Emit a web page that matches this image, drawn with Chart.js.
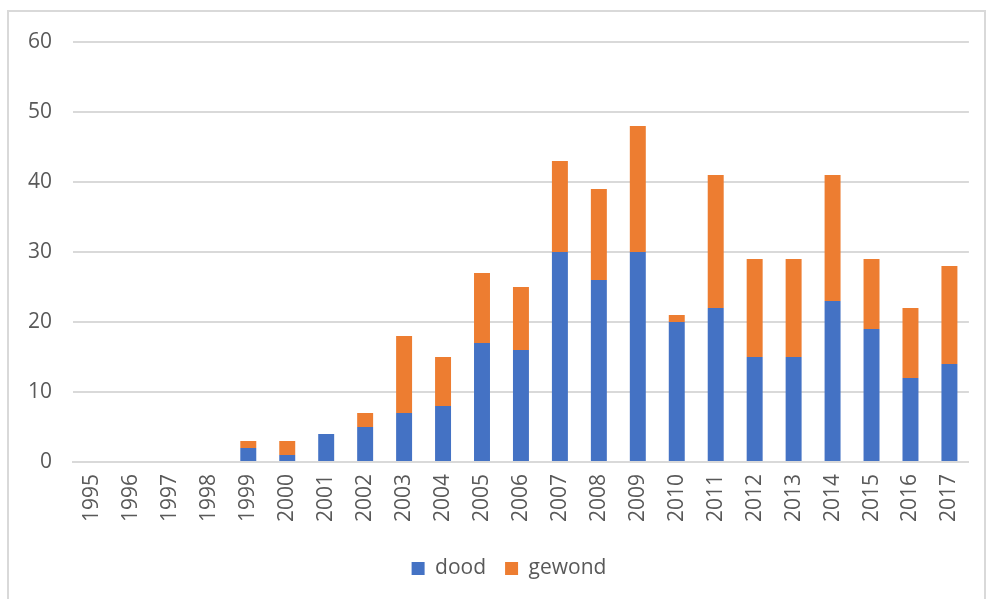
<!DOCTYPE html>
<html>
<head>
<meta charset="utf-8">
<script src="https://cdn.jsdelivr.net/npm/chart.js@4.4.0/dist/chart.umd.min.js"></script>
<style>
  html, body { margin: 0; padding: 0; background: #fff; }
  #wrap { position: relative; width: 987px; height: 599px; }
</style>
</head>
<body>
<div id="wrap"><canvas id="chart" width="987" height="599"></canvas></div>
<script>
// chart data
const years = ['1995', '1996', '1997', '1998', '1999', '2000', '2001', '2002', '2003', '2004', '2005', '2006',
  '2007', '2008', '2009', '2010', '2011', '2012', '2013', '2014', '2015', '2016', '2017'];
const dood = [0, 0, 0, 0, 2, 1, 4, 5, 7, 8, 17, 16, 30, 26, 30, 20, 22, 15, 15, 23, 19, 12, 14];
const gewond = [0, 0, 0, 0, 1, 2, 0, 2, 11, 7, 10, 9, 13, 13, 18, 1, 19, 14, 14, 18, 10, 10, 14];
const yTicks = [0, 10, 20, 30, 40, 50, 60];

const FONT = "'Open Sans', sans-serif";
const TEXT = '#595959';
const GRID = '#d9d9d9';

// light grey frame round the whole chart
const framePlugin = {
  id: 'frame',
  beforeDraw(chart) {
    const ctx = chart.ctx;
    ctx.save();
    ctx.strokeStyle = GRID;
    ctx.lineWidth = 2;
    ctx.strokeRect(8, 11, chart.width - 10, chart.height);
    ctx.restore();
  }
};

// nudge the bottom legend to the right, as in the reference
const legendShift = {
  id: 'legendShift',
  afterLayout(chart) {
    if (!chart.legend) return;
    chart.legend.left += 20;
    chart.legend.right += 20;
  }
};

new Chart(document.getElementById('chart'), {
  type: 'bar',
  data: {
    labels: years,
    datasets: [
      { label: 'dood', data: dood, backgroundColor: '#4472C4' },
      { label: 'gewond', data: gewond, backgroundColor: '#ED7D31' }
    ].map(ds => ({
      ...ds,
      borderWidth: 0,
      categoryPercentage: 1,
      barPercentage: 0.41
    }))
  },
  options: {
    responsive: false,
    animation: false,
    layout: { padding: { left: 8, right: 17, top: 42, bottom: 10 } },
    plugins: {
      tooltip: { enabled: false },
      legend: {
        position: 'bottom',
        labels: {
          color: TEXT,
          font: { family: FONT, size: 21 },
          boxWidth: 13,
          boxHeight: 13,
          padding: 19
        }
      }
    },
    scales: {
      x: {
        stacked: true,
        grid: { display: false, drawTicks: false },
        border: { display: true, color: GRID, width: 2 },
        ticks: {
          color: TEXT,
          font: { family: FONT, size: 21 },
          minRotation: 90,
          maxRotation: 90,
          padding: 12,
          autoSkip: false
        },
        afterFit(scale) { scale.height = 77; }
      },
      y: {
        stacked: true,
        min: 0,
        max: 60,
        afterBuildTicks(scale) { scale.ticks = yTicks.map(v => ({ value: v })); },
        grid: { color: GRID, lineWidth: 2, drawTicks: false },
        border: { display: false },
        ticks: {
          color: TEXT,
          font: { family: FONT, size: 21 },
          padding: 21
        },
        afterFit(scale) { scale.width = 65; }
      }
    }
  },
  plugins: [framePlugin, legendShift]
});
</script>
</body>
</html>
